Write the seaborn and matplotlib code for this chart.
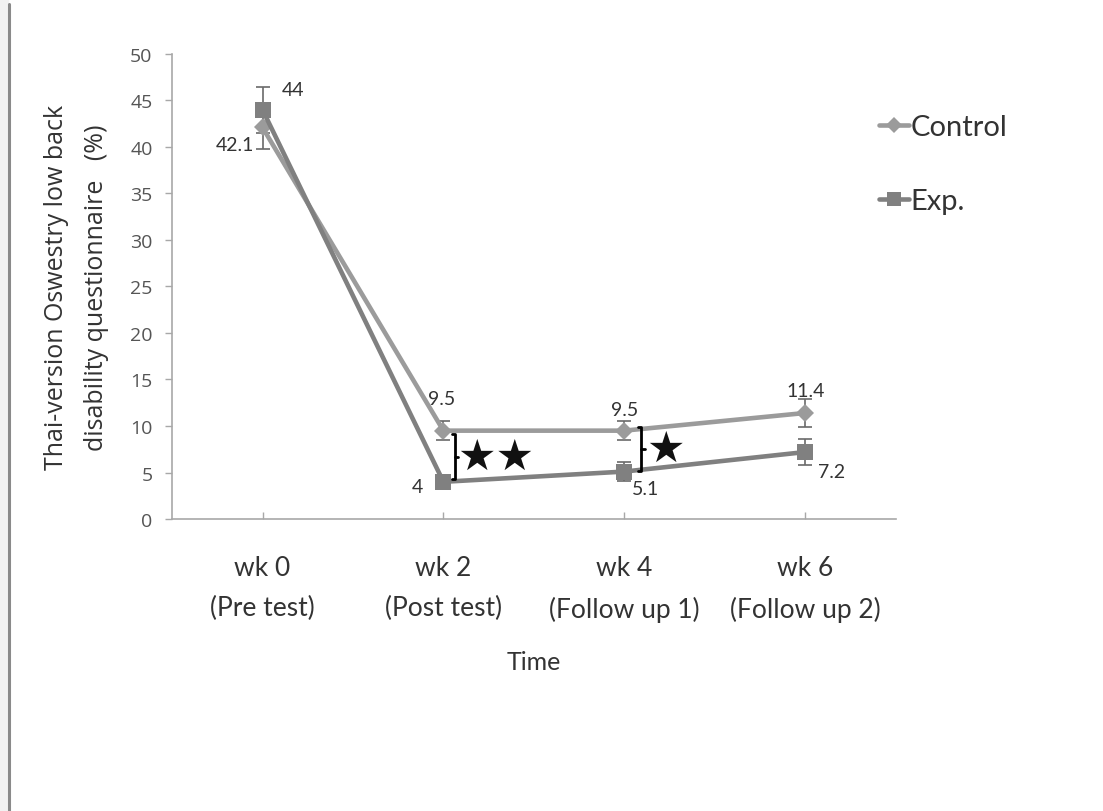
import matplotlib
matplotlib.use("Agg")
import matplotlib.pyplot as plt
from matplotlib.lines import Line2D
from matplotlib.patches import Rectangle
import seaborn as sns
import pandas as pd

# ---- data ----
categories = ["wk 0\n(Pre test)", "wk 2\n(Post test)", "wk 4\n(Follow up 1)", "wk 6\n(Follow up 2)"]
control = [42.1, 9.5, 9.5, 11.4]
control_err = [2.3, 1.0, 1.0, 1.5]
exp = [44.0, 4.0, 5.1, 7.2]
exp_err = [2.5, 0.6, 1.0, 1.4]
series_names = ["Control", "Exp."]
y_ticks = [0, 5, 10, 15, 20, 25, 30, 35, 40, 45, 50]

sns.set_theme(style="white")
plt.rcParams['font.family'] = ['Open Sans', 'DejaVu Sans']
LATO = ['Lato', 'DejaVu Sans']

fig = plt.figure(figsize=(11.03, 8.12), dpi=100)
ax = fig.add_axes([0.156, 0.3596, 0.656, 0.5727])

idx = list(range(len(categories)))
df = pd.DataFrame({
    "x": idx * 2,
    "value": control + exp,
    "group": [series_names[0]] * 4 + [series_names[1]] * 4,
})

c_ctrl = "#9b9b9b"
c_exp = "#808080"
sns.lineplot(data=df, x="x", y="value", hue="group", style="group",
             palette={series_names[0]: c_ctrl, series_names[1]: c_exp},
             markers={series_names[0]: "D", series_names[1]: "s"},
             dashes=False, linewidth=3.3, markersize=10, markeredgewidth=0,
             ax=ax, legend=False, zorder=3)
for ln in ax.lines:
    if ln.get_marker() == "s":
        ln.set_markersize(11.5)
    else:
        ln.set_markersize(9.5)

ax.errorbar(idx, control, yerr=control_err, fmt="none", ecolor="#6a6a6a",
            elinewidth=1.2, capsize=5, capthick=1.2, zorder=2)
ax.errorbar(idx, exp, yerr=exp_err, fmt="none", ecolor="#6a6a6a",
            elinewidth=1.2, capsize=5, capthick=1.2, zorder=2)

ax.set_xlim(-0.5, 3.5)
ax.set_ylim(0, 50)
ax.set_yticks(y_ticks)
ax.set_xticks(idx)
ax.set_xticklabels(categories, fontsize=19, family=LATO, color="#333333",
                   linespacing=1.75)
ax.tick_params(axis="y", labelsize=14, colors="#a8a8a8", length=5, width=1,
               direction="out", left=True, pad=9)
ax.tick_params(axis="x", length=5, width=1, direction="in", bottom=True, pad=26, colors="#a8a8a8")
for lab_ in ax.get_yticklabels():
    lab_.set_color("#555555")
for lab_ in ax.get_xticklabels():
    lab_.set_color("#333333")
for s in ["top", "right"]:
    ax.spines[s].set_visible(False)
for s in ["left", "bottom"]:
    ax.spines[s].set_color("#a8a8a8")
    ax.spines[s].set_linewidth(1.2)

ax.set_xlabel("Time", fontsize=18, family=LATO, color="#333333", labelpad=20)
ax.set_ylabel("Thai-version Oswestry low back\ndisability questionnaire   (%)",
              fontsize=18, color="#333333", labelpad=15, linespacing=1.8)

# data labels
def lab(x, y, text, dx, dy, ha):
    ax.annotate(text, (x, y), xytext=(dx * 0.72, dy * 0.72), textcoords="offset points",
                ha=ha, va="center", fontsize=14, color="#333333", family=LATO)

lab(0, control[0], f"{control[0]}", -8, -17, "right")
lab(0, exp[0], f"{exp[0]:g}", 19, 20, "left")
lab(1, control[1], f"{control[1]}", -2, 32, "center")
lab(1, exp[1], f"{exp[1]:g}", -20, -5, "right")
lab(2, control[2], f"{control[2]}", 0, 21, "center")
lab(2, exp[2], f"{exp[2]}", 8, -17, "left")
lab(3, control[3], f"{control[3]}", 0, 22, "center")
lab(3, exp[3], f"{exp[3]}", 13, -19, "left")

# significance brackets
def brace(x, y_top, y_bot, stars, sx):
    hook = 0.018
    ax.plot([x - hook, x, x, x - hook], [y_top, y_top, y_bot, y_bot], color="black", lw=2, zorder=4)
    ym = (y_top + y_bot) / 2
    ax.plot([x, x + hook], [ym, ym], color="black", lw=2, zorder=4)
    ax.text(sx, ym, stars, fontsize=31, ha="center", va="center", color="#111111",
            family=['DejaVu Sans'])

brace(1 + 0.065, control[1] - 0.4, exp[1] + 0.3, "★★", 1 + 0.29)
brace(2 + 0.094, control[2] + 0.4, exp[2] + 0.1, "★", 2 + 0.225)

# legend
handles = [Line2D([0], [0], color=c_ctrl, lw=3.3, marker="D", markersize=8.5, markeredgewidth=0),
           Line2D([0], [0], color=c_exp, lw=3.3, marker="s", markersize=10.5, markeredgewidth=0)]
fig.legend(handles, series_names, loc="upper left", bbox_to_anchor=(0.786, 0.873),
           frameon=False, handlelength=1.05, handletextpad=0.05, borderaxespad=0,
           labelspacing=1.65, prop={'family': LATO, 'size': 21},
           labelcolor="#333333")

# left page edge decoration
fig.add_artist(Rectangle((0, 0), 0.007, 1, transform=fig.transFigure, color="#f2f2f2", zorder=0))
fig.add_artist(Line2D([0.0085, 0.0085], [0, 0.994], transform=fig.transFigure,
                      color="#8a8a8a", lw=2.2))

fig.savefig("out.png", dpi=100)
